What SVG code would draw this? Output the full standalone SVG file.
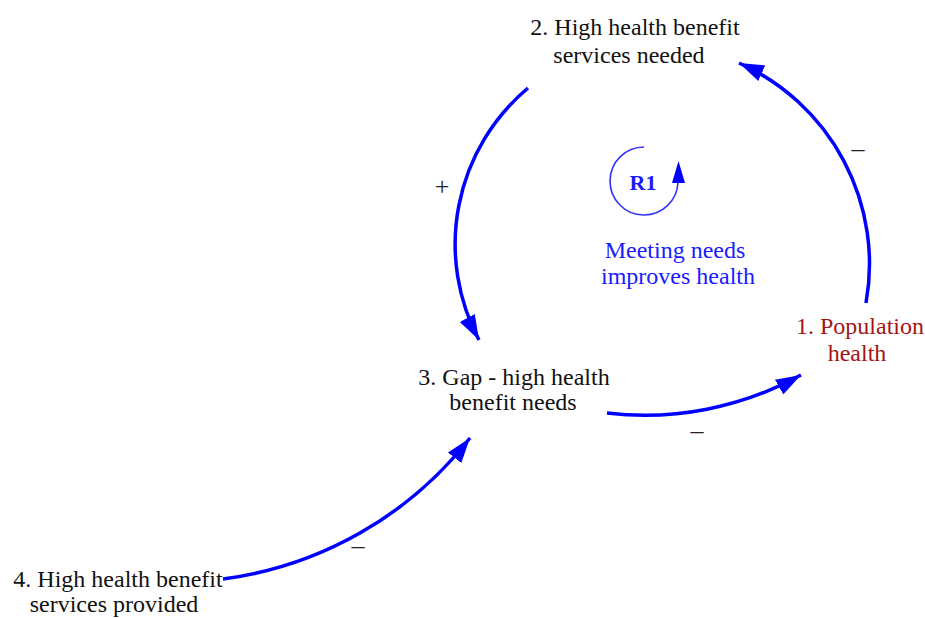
<svg xmlns="http://www.w3.org/2000/svg" width="925" height="619" viewBox="0 0 925 619">
  <style>
    .lbl { font-family: "Liberation Serif", "Times New Roman", serif; font-size: 24px; text-anchor: middle; fill: #111; }
    .red { fill: #a31515; }
    .loop { fill: #1a1aff; }
    .sign { font-family: "Liberation Serif", "Times New Roman", serif; font-size: 26px; text-anchor: middle; fill: #222; }
    .link { fill: none; stroke: #0000ff; stroke-width: 3.5; marker-end: url(#head); }
  </style>
  <defs>
    <marker id="head" markerUnits="userSpaceOnUse" markerWidth="27" markerHeight="18" refX="25" refY="8.5" orient="auto">
      <path d="M0,0 L25,8.5 L0,17 z" fill="#0000ff"/>
    </marker>
  </defs>
  <rect width="925" height="619" fill="#fff"/>

  <g id="connectors">
    <path class="link" d="M528,88 A204,204 0 0,0 479,340"/>
    <path class="link" d="M866,303 A220,220 0 0,0 739,63"/>
    <path class="link" d="M607,413 A323,323 0 0,0 801,375"/>
    <path class="link" d="M223,579 A375,375 0 0,0 470,438"/>
  </g>

  <g id="polarities">
    <text class="sign" x="442" y="195">+</text>
    <text class="sign" x="858" y="157">–</text>
    <text class="sign" x="697" y="439">–</text>
    <text class="sign" x="358" y="554">–</text>
  </g>

  <g id="loop-r1">
    <path d="M644,147 A34,34 0 1,0 678,182" fill="none" stroke="#3333ff" stroke-width="1.6"/>
    <polygon points="672,183 685,183 678.5,161" fill="#0000ff"/>
    <text x="643" y="190" font-family="Liberation Serif, Times New Roman, serif" font-size="22" font-weight="bold" text-anchor="middle" fill="#1a1aff">R1</text>
    <text class="lbl loop" x="675" y="258">Meeting needs</text>
    <text class="lbl loop" x="678" y="284">improves health</text>
  </g>

  <g id="node-1">
    <text class="lbl red" x="860" y="334">1. Population</text>
    <text class="lbl red" x="857" y="361">health</text>
  </g>

  <g id="node-2">
    <text class="lbl" x="635" y="35">2. High health benefit</text>
    <text class="lbl" x="629" y="63">services needed</text>
  </g>

  <g id="node-3">
    <text class="lbl" x="514" y="385">3. Gap - high health</text>
    <text class="lbl" x="513" y="410">benefit needs</text>
  </g>

  <g id="node-4">
    <text class="lbl" x="118" y="587">4. High health benefit</text>
    <text class="lbl" x="114" y="612">services provided</text>
  </g>
</svg>
